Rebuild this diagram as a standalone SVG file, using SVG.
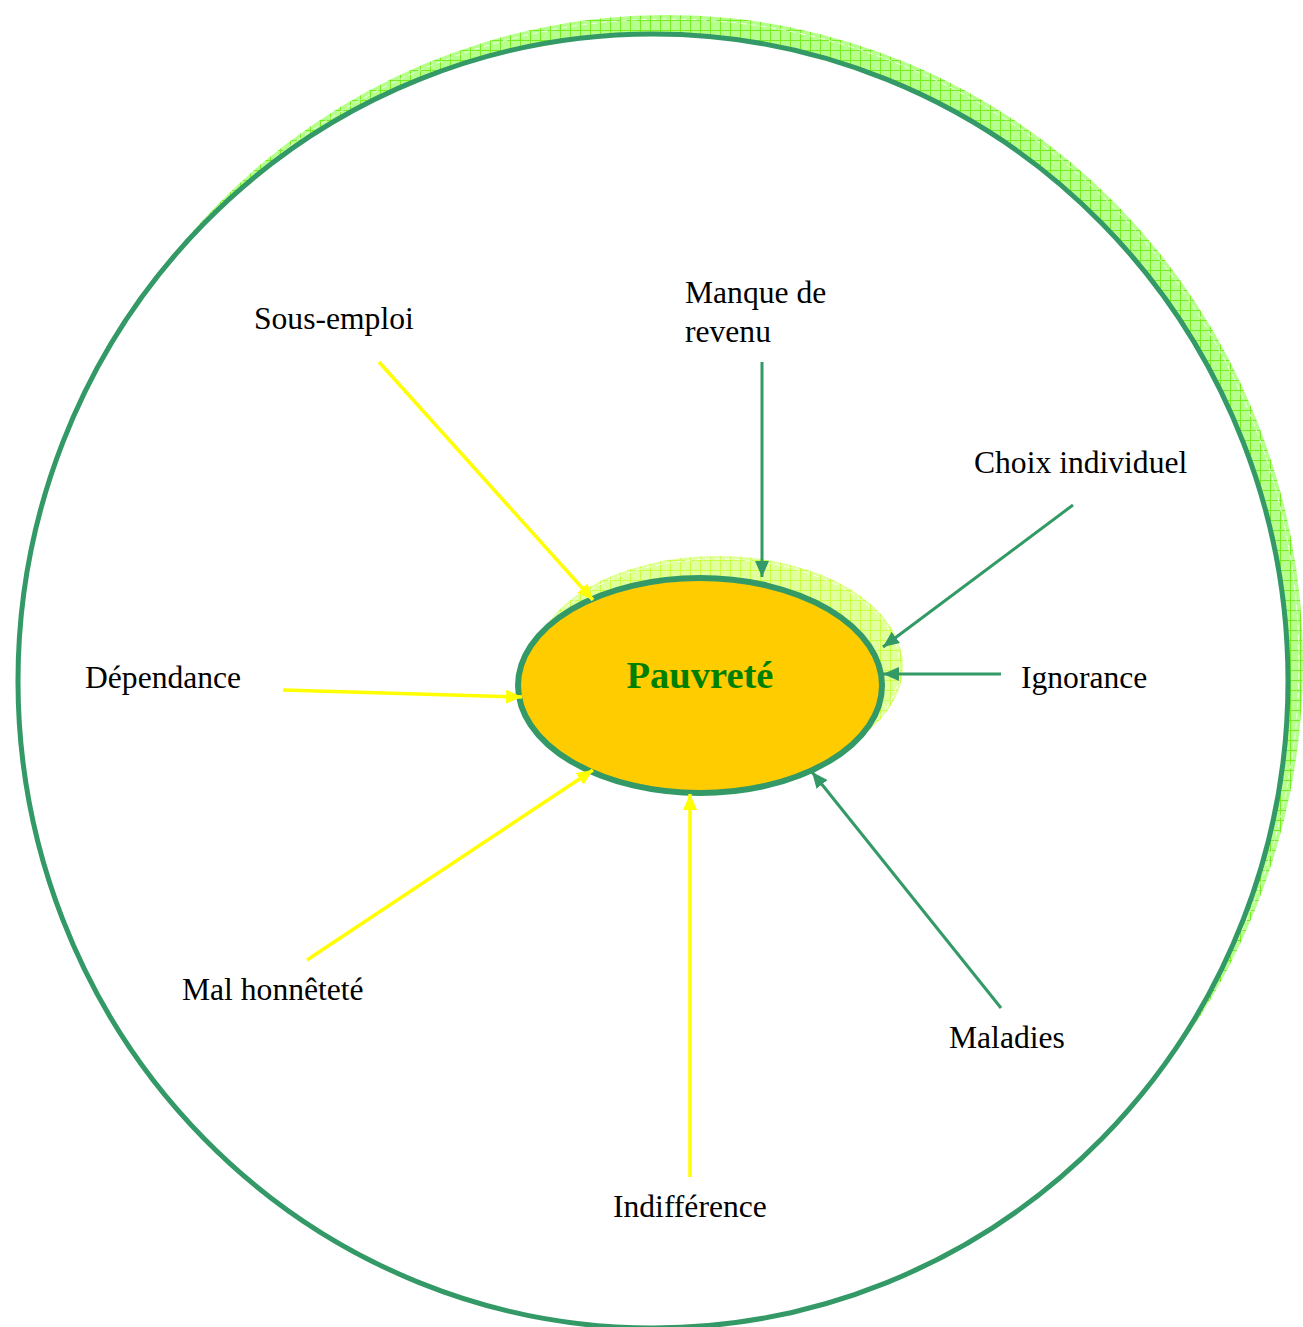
<svg xmlns="http://www.w3.org/2000/svg" width="1303" height="1327" viewBox="0 0 1303 1327">
<style>
.lbl{font-family:"Liberation Serif","Times New Roman",serif;font-size:31.6px;fill:#000}
.title{font-family:"Liberation Serif","Times New Roman",serif;font-size:38.5px;font-weight:bold;fill:#008000}
.g{stroke:#339966;stroke-width:3;fill:none;marker-end:url(#ag)}
.y{stroke:#ffff00;stroke-width:3.5;fill:none;marker-end:url(#ay)}
</style>
<defs>
<pattern id="gridBig" width="10" height="10" patternUnits="userSpaceOnUse">
<rect width="10" height="10" fill="#b6ff8c"/>
<path d="M0,0.5H10M0.5,0V10" stroke="#77ee22" stroke-width="1"/>
</pattern>
<pattern id="gridSmall" width="10" height="10" patternUnits="userSpaceOnUse">
<rect width="10" height="10" fill="#e2ff9e"/>
<path d="M0,0.5H10M0.5,0V10" stroke="#c8ff44" stroke-width="1"/>
</pattern>
<marker id="ag" markerUnits="userSpaceOnUse" markerWidth="17" markerHeight="14" refX="16" refY="7" orient="auto">
<path d="M0,0 L16,7 L0,14 z" fill="#339966"/>
</marker>
<marker id="ay" markerUnits="userSpaceOnUse" markerWidth="17" markerHeight="14" refX="16" refY="7" orient="auto">
<path d="M0,0 L16,7 L0,14 z" fill="#ffff00"/>
</marker>
</defs>
<rect width="1303" height="1327" fill="#ffffff"/>
<g id="outer-circle">
<ellipse cx="667" cy="663" rx="636" ry="648" fill="url(#gridBig)"/>
<ellipse cx="667" cy="663" rx="632" ry="644" fill="none" stroke="#ffffff" stroke-width="0.8" stroke-dasharray="6 4"/>
<ellipse cx="653" cy="681" rx="635" ry="647" fill="#ffffff" stroke="#339966" stroke-width="5"/>
</g>
<g id="pauvrete">
<ellipse cx="718" cy="666.5" rx="185" ry="110.5" fill="url(#gridSmall)"/>
<ellipse cx="718" cy="666.5" rx="182" ry="107.5" fill="none" stroke="#ffffff" stroke-width="0.8" stroke-dasharray="6 4"/>
<ellipse cx="700" cy="685.5" rx="182" ry="107.5" fill="#ffcc00" stroke="#339966" stroke-width="6"/>
<text class="title" x="700" y="688" text-anchor="middle">Pauvreté</text>
</g>
<g id="connectors">
<path class="y" d="M379,362 L593,600"/>
<path class="g" d="M762,362 L762,577"/>
<path class="g" d="M1073,505 L883,647"/>
<path class="g" d="M1001,674 L883,674"/>
<path class="y" d="M283,690 L522,697"/>
<path class="y" d="M307,960 L593,770"/>
<path class="y" d="M690,1177 L690,794"/>
<path class="g" d="M1001,1008 L812,772"/>
</g>
<g id="sous-emploi"><text class="lbl" x="254" y="329">Sous-emploi</text></g>
<g id="manque-de-revenu"><text class="lbl" x="685" y="303">Manque de</text><text class="lbl" x="685" y="342">revenu</text></g>
<g id="choix-individuel"><text class="lbl" x="974" y="473">Choix individuel</text></g>
<g id="ignorance"><text class="lbl" x="1021" y="688">Ignorance</text></g>
<g id="dependance"><text class="lbl" x="85" y="688">Dépendance</text></g>
<g id="mal-honnetete"><text class="lbl" x="182" y="1000">Mal honnêteté</text></g>
<g id="indifference"><text class="lbl" x="613" y="1217">Indifférence</text></g>
<g id="maladies"><text class="lbl" x="949" y="1048">Maladies</text></g>
</svg>
